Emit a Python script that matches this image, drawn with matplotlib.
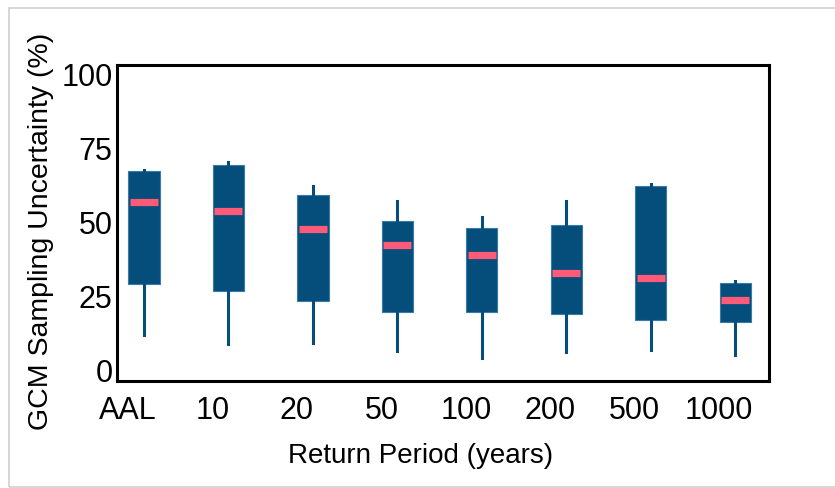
import matplotlib.pyplot as plt
from matplotlib.patches import Rectangle
from matplotlib.transforms import ScaledTranslation

# return periods and box statistics (%)
periods = ['AAL', '10', '20', '50', '100', '200', '500', '1000']
whisker_low = [11.7, 8.4, 8.7, 6.0, 3.6, 5.9, 6.4, 4.7]
q1 = [28.9, 26.3, 23.2, 19.5, 19.5, 18.6, 16.5, 16.0]
medians = [56.7, 53.6, 47.5, 41.9, 38.8, 32.6, 31.0, 23.3]
q3 = [67.1, 69.1, 59.0, 50.2, 47.9, 48.7, 61.9, 29.1]
whisker_high = [67.6, 70.1, 62.0, 56.8, 51.6, 56.8, 62.6, 29.7]

box_color = '#054D7A'
median_color = '#FF5A78'

plt.rcParams['font.family'] = ['Liberation Sans', 'DejaVu Sans']

fig = plt.figure(figsize=(8.35, 4.89), dpi=100)
ax = fig.add_axes([0.140, 0.219, 0.781, 0.646])

# light frame round the figure (right edge is cut off in the original)
fig.patches.append(Rectangle((9 / 835, 1.5 / 489), 1.2, 479 / 489,
                             transform=fig.transFigure, fill=False,
                             edgecolor='#cfcfcf', linewidth=1.2))

stats = []
for i in range(len(periods)):
    stats.append({'med': medians[i], 'q1': q1[i], 'q3': q3[i],
                  'whislo': whisker_low[i], 'whishi': whisker_high[i],
                  'label': periods[i]})

pos = list(range(len(periods)))
ax.bxp(stats, positions=pos, widths=0.37, patch_artist=True,
       showcaps=False, showfliers=False,
       boxprops=dict(facecolor=box_color, edgecolor='#3a7aa8', linewidth=0.8),
       whiskerprops=dict(color=box_color, linewidth=2.2),
       medianprops=dict(linewidth=0))

# median bars, a bit narrower than the boxes
ax.hlines(medians, [p - 0.165 for p in pos], [p + 0.165 for p in pos],
          colors=median_color, linewidth=5.2, zorder=4)

ax.set_xlim(-0.32, 7.4)
ax.set_ylim(-4, 103)
ax.set_yticks([0, 25, 50, 75, 100])
ax.set_xticks(pos)
ax.set_xticklabels(periods)
ax.tick_params(length=0, labelsize=22)
ax.tick_params(axis='x', pad=10)
ax.tick_params(axis='y', pad=3)
for s in ax.spines.values():
    s.set_linewidth(2.2)

# category labels sit a little left of their boxes in the original
shift = ScaledTranslation(-16 / 100, 0, fig.dpi_scale_trans)
for lab in ax.get_xticklabels():
    lab.set_transform(lab.get_transform() + shift)

ax.set_xlabel('Return Period (years)', fontsize=20)
ax.set_ylabel('GCM Sampling Uncertainty (%)', fontsize=20.5)
ax.xaxis.set_label_coords(0.466, -0.192)
ax.yaxis.set_label_coords(-0.097, 0.476)

plt.savefig('out.png', dpi=100)
